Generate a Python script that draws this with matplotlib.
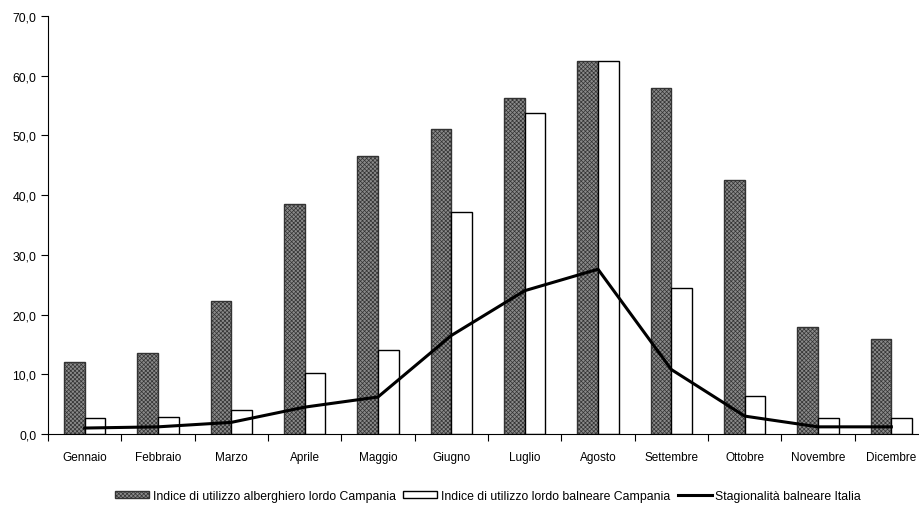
import matplotlib
matplotlib.use("Agg")
import matplotlib.pyplot as plt
import numpy as np

plt.rcParams['font.family'] = ['Liberation Sans', 'DejaVu Sans']
plt.rcParams['hatch.linewidth'] = 0.5

mesi = ["Gennaio", "Febbraio", "Marzo", "Aprile", "Maggio", "Giugno",
        "Luglio", "Agosto", "Settembre", "Ottobre", "Novembre", "Dicembre"]
alberghiero = [12.0, 13.5, 22.2, 38.6, 46.5, 51.0, 56.2, 62.4, 58.0, 42.6, 18.0, 15.9]
balneare = [2.7, 2.9, 4.1, 10.2, 14.0, 37.2, 53.8, 62.4, 24.4, 6.4, 2.7, 2.7]
stagionalita = [1.0, 1.2, 1.95, 4.5, 6.2, 16.5, 24.0, 27.6, 10.8, 3.0, 1.2, 1.2]

fig = plt.figure(figsize=(9.19, 5.06), dpi=100)
ax = fig.add_axes([0.0522, 0.1403, 0.9576, 0.826])

x = np.arange(len(mesi))
w = 0.28
b1 = ax.bar(x - w / 2, alberghiero, w, facecolor='#8a8a8a', edgecolor='#333333',
            hatch='xxxxxxxx', linewidth=1.0,
            label="Indice di utilizzo alberghiero lordo Campania")
b2 = ax.bar(x + w / 2, balneare, w, facecolor='white', edgecolor='black',
            linewidth=1.0, label="Indice di utilizzo lordo balneare Campania")
l1, = ax.plot(x, stagionalita, color='black', linewidth=2.2,
              label="Stagionalità balneare Italia")

ax.set_xlim(-0.5, len(mesi) - 0.5)
ax.set_ylim(0, 70)
ax.set_yticks(np.arange(0, 71, 10))
ax.set_yticklabels([f"{v:.1f}".replace('.', ',') for v in np.arange(0, 71, 10)])
ax.set_xticks(np.arange(-0.5, len(mesi) - 0.5, 1))
ax.set_xticklabels([])
ax.set_xticks(x, minor=True)
ax.set_xticklabels(mesi, minor=True)
ax.tick_params(axis='x', which='minor', length=0, pad=12, labelsize=8.5)
ax.tick_params(axis='x', which='major', length=5, direction='out')
ax.tick_params(axis='y', length=5, direction='out', labelsize=8.8)
for s in ['top', 'right']:
    ax.spines[s].set_visible(False)

ax.legend([b1, b2, l1], [b1.get_label(), b2.get_label(), l1.get_label()],
          loc='center', bbox_to_anchor=(0.5, -0.148), ncol=3, frameon=False,
          fontsize=8.8, handlelength=2.8, handleheight=0.6, columnspacing=0.6,
          handletextpad=0.3)

fig.savefig("out.png", dpi=100)
